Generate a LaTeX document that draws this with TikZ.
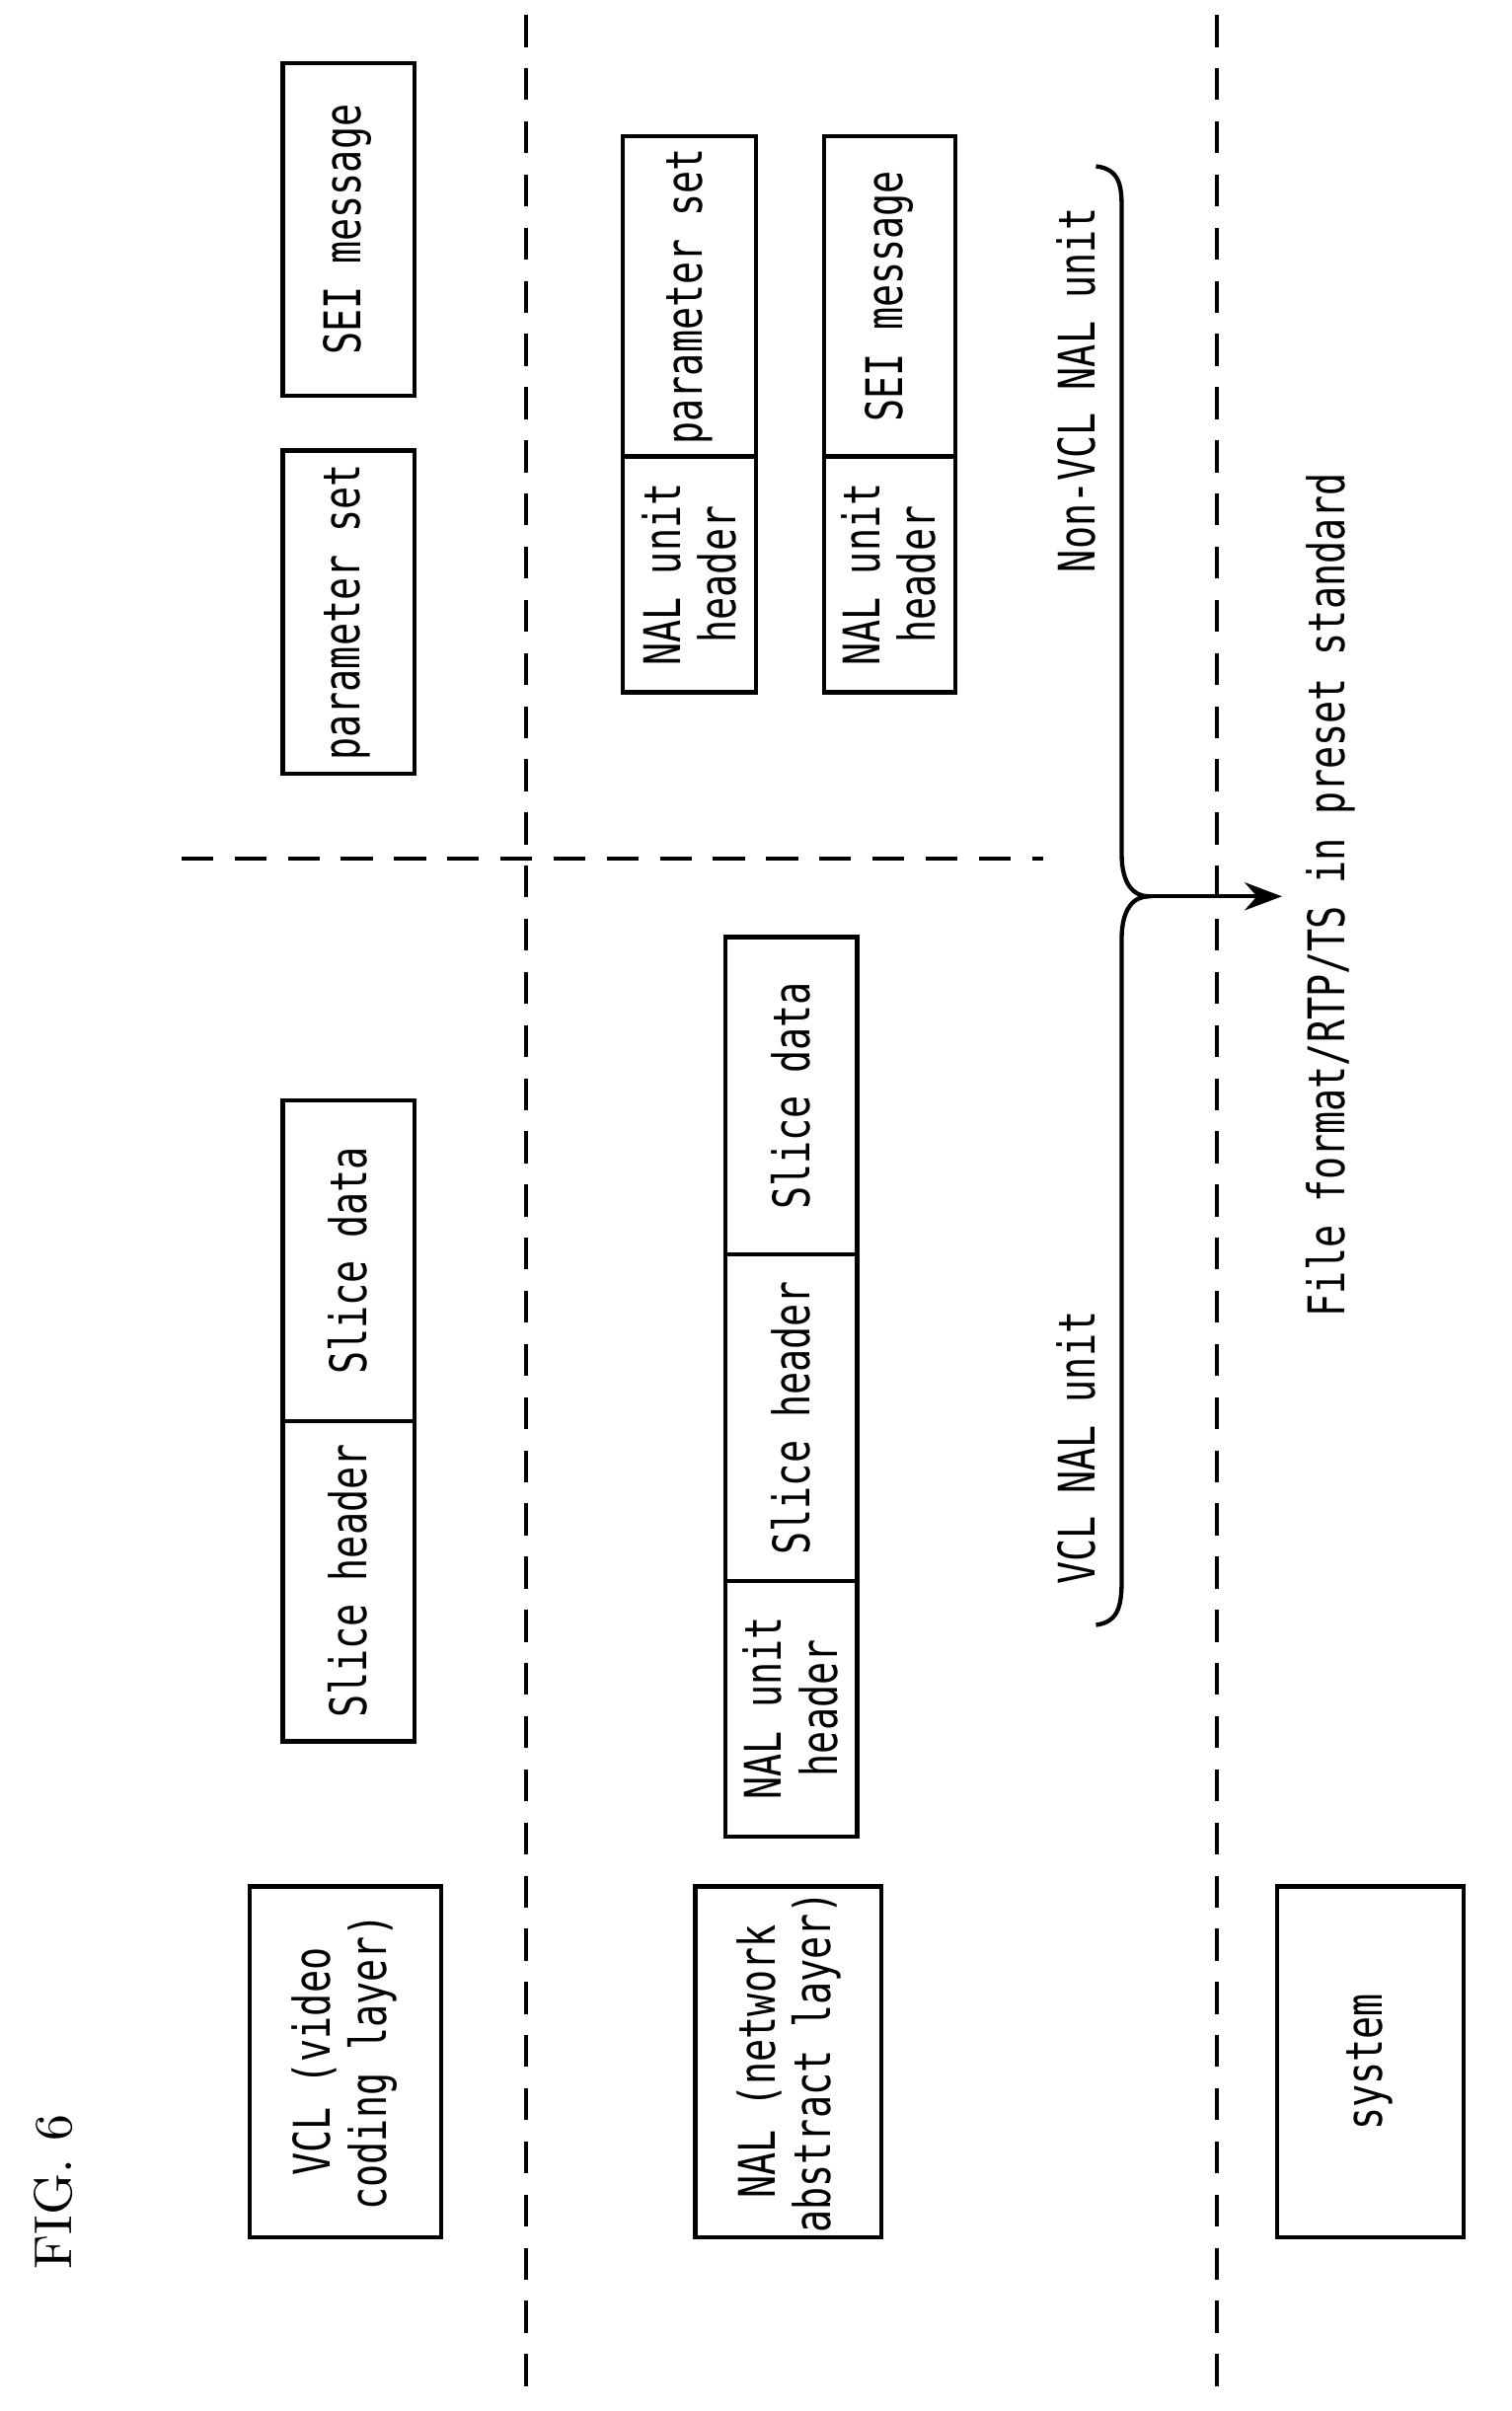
\documentclass[tikz,border=0pt]{standalone}
\usepackage{fontspec}
\newfontfamily\mono[FakeStretch=0.75]{DejaVu Sans Mono}
\usetikzlibrary{arrows.meta}
\begin{document}
\begin{tikzpicture}[x=0.01cm,y=-0.01cm,
  bx/.style={draw,line width=0.8pt},
  dl/.style={dashed,line width=0.7pt,dash pattern=on 6pt off 4pt},
  tx/.style={rotate=90,font=\mono\fontsize{9.5}{10.5}\selectfont,align=center,inner sep=0pt}]
\useasboundingbox (0,0) rectangle (1000,1595);
% dashed lines
\draw[dl] (348,10) -- (348,1585);
\draw[dl] (805,10) -- (805,1585);
\draw[dl] (120,568) -- (690,568);
\node[rotate=90,font=\fontsize{10}{12}\selectfont\rmfamily] (fig) at (35,1450) {FIG. 6};
% VCL row
\draw[bx] (165,1248) rectangle (292,1480);
\node[tx] (vcl) at (228,1364) {VCL (video\\coding layer)};
\draw[bx] (187,728) rectangle (274,1152); \draw[bx] (187,940) -- (274,940);
\node[tx] (sh) at (230,1046) {Slice header};
\node[tx] (sd) at (230,834) {Slice data};
\draw[bx] (187,298) rectangle (274,512);
\node[tx] (ps) at (230,405) {parameter set};
\draw[bx] (187,42) rectangle (274,262);
\node[tx] (sei) at (230,152) {SEI message};
% NAL row
\draw[bx] (460,1248) rectangle (583,1480);
\node[tx] (nal) at (522,1364) {NAL (network\\abstract layer)};
\draw[bx] (480,620) rectangle (567,1215);
\draw[bx] (480,1046) -- (567,1046); \draw[bx] (480,830) -- (567,830);
\node[tx] (nh) at (523,1130) {NAL unit\\header};
\node[tx] (sh2) at (523,938) {Slice header};
\node[tx] (sd2) at (523,725) {Slice data};
\draw[bx] (412,90) rectangle (500,458); \draw[bx] (412,302) -- (500,302);
\node[tx] (nh2) at (456,380) {NAL unit\\header};
\node[tx] (ps2) at (456,196) {parameter set};
\draw[bx] (545,90) rectangle (632,458); \draw[bx] (545,302) -- (632,302);
\node[tx] (nh3) at (588,380) {NAL unit\\header};
\node[tx] (sei2) at (588,196) {SEI message};
% brace
\draw[line width=0.8pt] (725,110) .. controls (742,112) and (742,125) .. (742,140) -- (742,565)
  .. controls (742,585) and (750,593) .. (760,593)
  .. controls (750,593) and (742,601) .. (742,621) -- (742,1045)
  .. controls (742,1062) and (740,1073) .. (725,1075);
\coordinate (tip) at (760,593);
\coordinate (arr) at (848,593);
\draw[-{Stealth[length=7pt]},line width=0.8pt] (tip) -- (arr);
\node[tx] (nv) at (712,258) {Non-VCL NAL unit};
\node[tx] (v) at (712,958) {VCL NAL unit};
\node[tx] (ff) at (880,592) {File format/RTP/TS in preset standard};
% system
\draw[bx] (845,1248) rectangle (968,1480);
\node[tx] (sys) at (906,1364) {system};
\end{tikzpicture}
\end{document}
